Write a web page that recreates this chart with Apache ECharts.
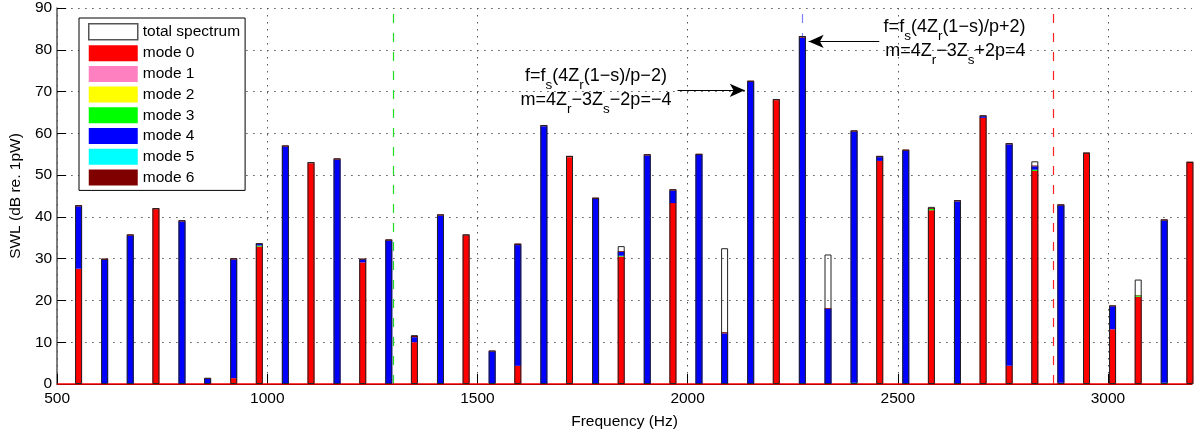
<!DOCTYPE html>
<html>
<head>
<meta charset="utf-8">
<script src="https://cdn.jsdelivr.net/npm/echarts@6/dist/echarts.min.js"></script>
<style>
  html, body { margin: 0; padding: 0; background: #fff; }
  #chart { width: 1203px; height: 435px; }
</style>
</head>
<body>
<div id="chart"></div>
<script>
var myChart = echarts.init(document.getElementById('chart'));

// bar frequencies (Hz)
var freqs = [551, 613, 674, 735, 797, 858, 920, 981, 1043, 1104, 1166, 1227, 1289, 1350, 1412,
  1473, 1535, 1596, 1658, 1719, 1781, 1842, 1904, 1965, 2027, 2088, 2150, 2211, 2273, 2334,
  2396, 2457, 2519, 2580, 2642, 2703, 2765, 2826, 2888, 2949, 3011, 3072, 3134, 3195];

// stacked mode contributions (dB)
var mode0 = [27.6, 0.2, 0, 41.8, 0, 0.1, 1.4, 32.9, 0, 52.8, 0, 29.1, 0, 10.0, 0,
  35.5, 0, 4.35, 0, 54.3, 0, 30.5, 0, 43.3, 0, 0, 0, 67.9, 0, 0,
  0, 53.4, 0, 41.6, 0, 63.7, 4.35, 51.0, 0.3, 55.1, 13.1, 20.9, 0, 52.9];
var mode1 = [0, 0, 0, 0, 0, 0, 0, 0, 0, 0, 0, 0, 0, 0, 0,
  0, 0, 0, 0, 0, 0, 0, 0, 0, 0, 0, 0, 0, 0, 0,
  0, 0, 0, 0, 0, 0, 0, 0, 0, 0, 0, 0, 0, 0];
var mode2 = [0, 0, 0, 0, 0, 0, 0, 0, 0, 0, 0, 0, 0, 0, 0,
  0, 0, 0, 0, 0, 0, 0, 0, 0, 0, 0, 0, 0, 0, 0,
  0, 0, 0, 0, 0, 0, 0, 0, 0, 0, 0, 0, 0, 0];
var mode3 = [0, 0, 0, 0, 0, 0, 0, 0.25, 0, 0, 0, 0, 0, 0, 0,
  0, 0.2, 0, 0, 0, 0, 0.2, 0, 0, 0, 0, 0, 0, 0, 0,
  0.3, 0, 0, 0.3, 0, 0, 0, 0.3, 0, 0, 0, 0.3, 0.3, 0];
var mode4 = [14.9, 29.5, 35.5, 0, 38.9, 1.1, 28.4, 0.35, 56.8, 0, 53.7, 0.7, 34.3, 1.2, 40.3,
  0, 7.6, 28.9, 61.7, 0, 44.3, 0.9, 54.7, 3.0, 54.8, 12.1, 72.3, 0, 82.9, 18.0,
  60.1, 0.9, 55.8, 0, 43.7, 0.4, 53.0, 0.8, 42.4, 0, 5.5, 0, 38.8, 0];
var mode5 = [0, 0, 0, 0, 0, 0, 0, 0, 0, 0, 0, 0, 0, 0, 0,
  0, 0, 0, 0, 0, 0, 0, 0, 0, 0, 0, 0, 0, 0, 0,
  0, 0, 0, 0, 0, 0, 0, 0, 0, 0, 0, 0, 0, 0];
var mode6 = [0.3, 0.3, 0.3, 0.3, 0.3, 0.2, 0.3, 0.2, 0.3, 0.3, 0.3, 0.2, 0.3, 0.3, 0.3,
  0.3, 0.2, 0.35, 0.3, 0.3, 0.3, 0.2, 0.3, 0.3, 0.3, 0.3, 0.3, 0.3, 0.4, 0.2,
  0.3, 0.3, 0.3, 0.2, 0.3, 0.2, 0.3, 0.2, 0.3, 0.3, 0.2, 0.1, 0.3, 0.3];
// total spectrum (dB)
var total = [42.8, 30.0, 35.8, 42.1, 39.2, 1.5, 30.1, 33.7, 57.1, 53.1, 54.0, 30.0, 34.6, 11.7, 40.6,
  35.8, 8.0, 33.6, 62.0, 54.6, 44.6, 33.0, 55.0, 46.6, 55.1, 32.5, 72.6, 68.2, 83.3, 31.0,
  60.7, 54.6, 56.1, 42.4, 44.0, 64.3, 57.65, 53.3, 43.0, 55.4, 18.8, 25.0, 39.4, 53.2];

var modeNames = ['mode 0', 'mode 1', 'mode 2', 'mode 3', 'mode 4', 'mode 5', 'mode 6'];
var modeColors = ['#ff0000', '#ff80c0', '#ffff00', '#00ff00', '#0000ff', '#00ffff', '#800000'];
var modeValues = [mode0, mode1, mode2, mode3, mode4, mode5, mode6];

// dashed marker lines (Hz)
var markerFreqs = [1300, 2273, 2871];
var markerColors = ['#22dd22', '#7f7fff', '#ff2020'];

var FONT = 'Liberation Sans, Arial, Helvetica, sans-serif';

// value first so that the stack runs on the y dimension
function pairs(vals) {
  return freqs.map(function(f, i) { return [vals[i], f]; });
}

var seriesList = [];

// dashed vertical lines, behind the bars
markerFreqs.forEach(function(f, i) {
  seriesList.push({
    name: 'marker' + i,
    type: 'line',
    data: [],
    z: 1,
    silent: true,
    markLine: {
      silent: true,
      z: 1,
      symbol: ['none', 'none'],
      label: { show: false },
      lineStyle: { color: markerColors[i], width: 1.2, type: [9, 10] },
      emphasis: { disabled: true },
      data: [{ xAxis: f }]
    }
  });
});

// red zero line
seriesList.push({
  name: 'base',
  type: 'line',
  data: [],
  z: 1,
  silent: true,
  markLine: {
    silent: true,
    z: 1,
    symbol: ['none', 'none'],
    label: { show: false },
    lineStyle: { color: '#ff0000', width: 1.5, type: 'solid' },
    data: [{ yAxis: 0 }]
  }
});

for (var k = 0; k < modeNames.length; k++) {
  seriesList.push({
    name: modeNames[k],
    type: 'bar',
    stack: 'modes',
    barWidth: 7,
    barGap: '-100%',
    z: 2,
    encode: { x: 1, y: 0 },
    data: pairs(modeValues[k]),
    itemStyle: { color: modeColors[k], borderWidth: 0 }
  });
}

// hollow total spectrum drawn over the stacked modes
seriesList.push({
  name: 'total spectrum',
  type: 'bar',
  barWidth: 7,
  barGap: '-100%',
  z: 3,
  encode: { x: 1, y: 0 },
  data: pairs(total),
  itemStyle: { color: 'rgba(255,255,255,0)', borderColor: '#222', borderWidth: 1 },
  markLine: {
    silent: true,
    symbol: ['none', 'arrow'],
    symbolSize: [10, 15],
    label: { show: false },
    lineStyle: { color: '#000', width: 1, type: 'solid' },
    data: [
      [{ coord: [1976, 70.3] }, { coord: [2136, 70.3] }],
      [{ coord: [2456, 82.0] }, { coord: [2288, 82.0] }]
    ]
  },
  markPoint: {
    silent: true,
    symbol: 'circle',
    symbolSize: 1,
    itemStyle: { color: 'rgba(0,0,0,0)' },
    label: {
      show: true,
      position: 'inside',
      color: '#000',
      fontFamily: FONT,
      rich: {
        n: { fontSize: 18, fontFamily: FONT, color: '#000' },
        s: { fontSize: 13.5, fontFamily: FONT, color: '#000', padding: [18, 0, 0, 0] }
      }
    },
    data: [
      { coord: [1782, 73.7], label: { formatter: '{n|f=f}{s|s}{n|(4Z}{s|r}{n|(1\u2212s)/p\u22122)}' } },
      { coord: [1782, 68.0], label: { formatter: '{n|m=4Z}{s|r}{n|\u22123Z}{s|s}{n|\u22122p=\u22124}' } },
      { coord: [2635, 85.4], label: { formatter: '{n|f=f}{s|s}{n|(4Z}{s|r}{n|(1\u2212s)/p+2)}' } },
      { coord: [2637, 79.6], label: { formatter: '{n|m=4Z}{s|r}{n|\u22123Z}{s|s}{n|+2p=4}' } }
    ]
  }
});

var legendData = [{
  name: 'total spectrum',
  itemStyle: { color: '#fff', borderColor: '#555', borderWidth: 1.5 }
}];
modeNames.forEach(function(n, i) {
  legendData.push({ name: n, itemStyle: { color: modeColors[i], borderWidth: 0 } });
});

var option = {
  animation: false,
  backgroundColor: '#fff',
  textStyle: { fontFamily: FONT },
  grid: { left: 54, right: 11, top: 5, bottom: 51, containLabel: false },
  legend: {
    orient: 'vertical',
    left: 79,
    top: 18,
    padding: [5, 5, 5, 9],
    itemWidth: 49,
    itemHeight: 16,
    itemGap: 4.7,
    icon: 'rect',
    borderColor: '#000',
    borderWidth: 1,
    backgroundColor: '#fff',
    selectedMode: false,
    textStyle: { fontSize: 15.5, color: '#000', fontFamily: FONT, lineHeight: 16 },
    data: legendData
  },
  xAxis: {
    type: 'value',
    min: 500,
    max: 3200,
    interval: 500,
    name: 'Frequency (Hz)',
    nameLocation: 'middle',
    nameGap: 30,
    nameTextStyle: { fontSize: 15.5, color: '#000', fontFamily: FONT },
    axisLine: { show: true, lineStyle: { color: '#000', width: 1 } },
    axisTick: { show: true, inside: true, length: 10, lineStyle: { color: '#000' } },
    axisLabel: {
      margin: 7, fontSize: 15.5, color: '#000', fontFamily: FONT, showMaxLabel: false,
      formatter: function(v) { return String(v); }
    },
    splitLine: { show: true, showMaxLine: false, lineStyle: { color: '#555', width: 1, type: [1.5, 5.5] } }
  },
  yAxis: {
    type: 'value',
    min: 0,
    max: 90,
    interval: 10,
    name: 'SWL (dB re. 1pW)',
    nameLocation: 'middle',
    nameGap: 31,
    nameTextStyle: { fontSize: 15.5, color: '#000', fontFamily: FONT },
    axisLine: { show: true, lineStyle: { color: '#555', width: 1.5 } },
    axisTick: { show: true, inside: true, length: 9, lineStyle: { color: '#000' } },
    axisLabel: { margin: 5, fontSize: 15.5, color: '#000', fontFamily: FONT },
    splitLine: { show: true, lineStyle: { color: '#555', width: 1, type: [1.5, 5.5] } }
  },
  series: seriesList
};

myChart.setOption(option);
</script>
</body>
</html>
